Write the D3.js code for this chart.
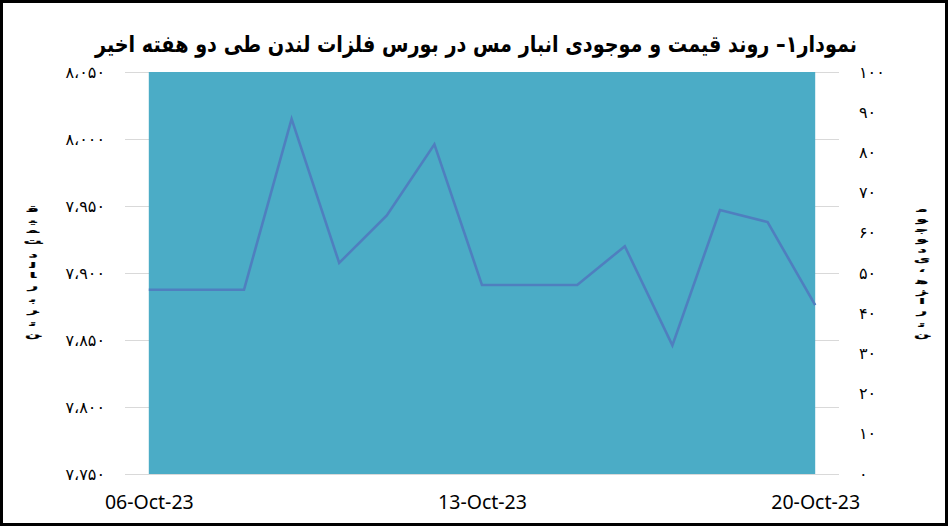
<!DOCTYPE html>
<html>
<head>
<meta charset="utf-8">
<script src="https://cdn.jsdelivr.net/npm/d3@7/dist/d3.min.js"></script>
<style>
  html, body { margin: 0; padding: 0; background: #fff; }
  svg { display: block; }
</style>
</head>
<body>
<svg id="chart" width="948" height="526"></svg>
<script>
// ---- Data ----
const dates = ["2023-10-06","2023-10-07","2023-10-08","2023-10-09","2023-10-10","2023-10-11","2023-10-12",
               "2023-10-13","2023-10-14","2023-10-15","2023-10-16","2023-10-17","2023-10-18","2023-10-19","2023-10-20"];
// Copper price, USD per tonne (left axis)
const price = [7887.5, 7887.5, 7887.5, 8015, 7907.5, 7943, 7996, 7891, 7891, 7891, 7920, 7846, 7947, 7938, 7876];
// Copper inventory, thousand tonnes (right axis) – above the axis maximum, so the area fills the whole plot
const inventory = [170.3, 170.3, 170.3, 168.9, 168.2, 169.6, 172.4, 174.1, 174.1, 174.1, 175.8, 177.5, 178.9, 179.4, 181.2];
const leftTicks = [7750, 7800, 7850, 7900, 7950, 8000, 8050];
const rightTicks = [0, 10, 20, 30, 40, 50, 60, 70, 80, 90, 100];
const xTickDates = ["2023-10-06", "2023-10-13", "2023-10-20"];
const xTickLabels = ["06-Oct-23", "13-Oct-23", "20-Oct-23"];
const title = "نمودار۱– روند قیمت و موجودی انبار مس در بورس فلزات لندن طی دو هفته اخیر";
const leftTitle = "قیمت دلار بر تن";
const rightTitle = "موجودی، هزار تن";

// ---- Helpers ----
const faDigits = "۰۱۲۳۴۵۶۷۸۹";
const toFa = s => String(s).replace(/\d/g, d => faDigits[+d]).replace(/,/g, "،");

// ---- Layout ----
const svg = d3.select("#chart");
const W = 948, H = 526;
const plot = { left: 125, right: 839, top: 72, bottom: 474 };

svg.append("rect").attr("x", 0).attr("y", 0).attr("width", W).attr("height", H).attr("fill", "#fff");

const x = d3.scalePoint().domain(dates).range([plot.left, plot.right]).padding(0.5);
const yL = d3.scaleLinear().domain([7750, 8050]).range([plot.bottom, plot.top]);
const yR = d3.scaleLinear().domain([0, 100]).range([plot.bottom, plot.top]);

// gridlines
svg.append("g")
  .attr("transform", `translate(${plot.left},0)`)
  .call(d3.axisLeft(yL).tickValues(leftTicks).tickSize(-(plot.right - plot.left)).tickFormat(""))
  .call(g => g.select(".domain").remove())
  .call(g => g.selectAll("line").attr("stroke", "#d9d9d9").attr("stroke-width", 1));

// clip
svg.append("clipPath").attr("id", "clip")
  .append("rect").attr("x", plot.left).attr("y", plot.top)
  .attr("width", plot.right - plot.left).attr("height", plot.bottom - plot.top);

// inventory area
const area = d3.area()
  .x((d, i) => x(dates[i]))
  .y0(yR(0))
  .y1(d => yR(d));
svg.append("path")
  .datum(inventory)
  .attr("clip-path", "url(#clip)")
  .attr("d", area)
  .attr("fill", "#4bacc6");

// price line
const line = d3.line()
  .x((d, i) => x(dates[i]))
  .y(d => yL(d));
svg.append("path")
  .datum(price)
  .attr("d", line)
  .attr("fill", "none")
  .attr("stroke", "#4f7fbf")
  .attr("stroke-width", 2.6)
  .attr("stroke-linejoin", "miter");

// left axis labels
svg.append("g")
  .attr("transform", `translate(${plot.left},0)`)
  .call(d3.axisLeft(yL).tickValues(leftTicks).tickSize(0).tickPadding(20)
        .tickFormat(d => toFa(d3.format(",")(d))))
  .call(g => g.select(".domain").remove())
  .call(g => g.selectAll("text")
        .attr("font-family", "DejaVu Sans")
        .attr("font-size", 16)
        .attr("letter-spacing", 3)
        .attr("fill", "#000"));

// right axis labels
svg.append("g")
  .attr("transform", `translate(${plot.right},0)`)
  .call(d3.axisRight(yR).tickValues(rightTicks).tickSize(0).tickPadding(20)
        .tickFormat(d => toFa(d)))
  .call(g => g.select(".domain").remove())
  .call(g => g.selectAll("text")
        .attr("font-family", "DejaVu Sans")
        .attr("font-size", 16)
        .attr("letter-spacing", 3)
        .attr("fill", "#000"));

// bottom axis labels
svg.append("g")
  .attr("transform", `translate(0,${plot.bottom})`)
  .call(d3.axisBottom(x).tickValues(xTickDates).tickSize(0).tickPadding(21)
        .tickFormat(d => xTickLabels[xTickDates.indexOf(d)]))
  .call(g => g.select(".domain").remove())
  .call(g => g.selectAll("text")
        .attr("font-family", "Noto Sans, sans-serif")
        .attr("font-size", 19.5)
        .attr("fill", "#000"));

// title
svg.append("text")
  .attr("x", 476).attr("y", 52)
  .attr("text-anchor", "middle")
  .attr("direction", "rtl")
  .attr("font-family", "DejaVu Sans")
  .attr("font-weight", "bold")
  .attr("font-size", 23)
  .attr("textLength", 762)
  .attr("lengthAdjust", "spacingAndGlyphs")
  .attr("fill", "#000")
  .text(title);

// stacked (vertical, upright glyph) axis titles, keeping joined letter forms
const dual = new Set(Array.from("بپتثجچحخسشصضطظعغفقکگلمنهیئكي"));
const rightJoin = new Set(Array.from("اآأإدذرزژوؤة"));
const isLetter = c => dual.has(c) || rightJoin.has(c);
function stacked(str, cx, top, bottom) {
  const sx = 1.5, sy = 0.7;
  const chars = Array.from(str);
  const weights = chars.map(c => c === " " ? 0.3 : 1);
  const total = d3.sum(weights);
  const step = (bottom - top) / total;
  const ZWJ = "\u200d";
  const g = svg.append("g").attr("transform", `translate(${cx},0) scale(${sx},${sy})`);
  let yy = top;
  chars.forEach((c, i) => {
    const h = weights[i] * step;
    if (c !== " ") {
      const prev = chars[i - 1], next = chars[i + 1];
      let s = c;
      if (isLetter(c) && prev && dual.has(prev)) s = ZWJ + s;
      if (dual.has(c) && next && isLetter(next)) s = s + ZWJ;
      g.append("text")
        .attr("x", 0).attr("y", (yy + h / 2 + 4) / sy)
        .attr("font-family", "DejaVu Sans")
        .attr("font-weight", "bold")
        .attr("font-size", 12)
        .attr("fill", "#000")
        .attr("stroke", "#000")
        .attr("stroke-width", 0.35)
        .attr("text-anchor", "middle")
        .text(s);
    }
    yy += h;
  });
}
stacked(leftTitle, 33, 203, 338);
stacked(rightTitle, 922, 203, 338);

// outer frame
svg.append("rect")
  .attr("x", 1.5).attr("y", 1.5).attr("width", W - 3).attr("height", H - 3)
  .attr("fill", "none").attr("stroke", "#000").attr("stroke-width", 3);
</script>
</body>
</html>
